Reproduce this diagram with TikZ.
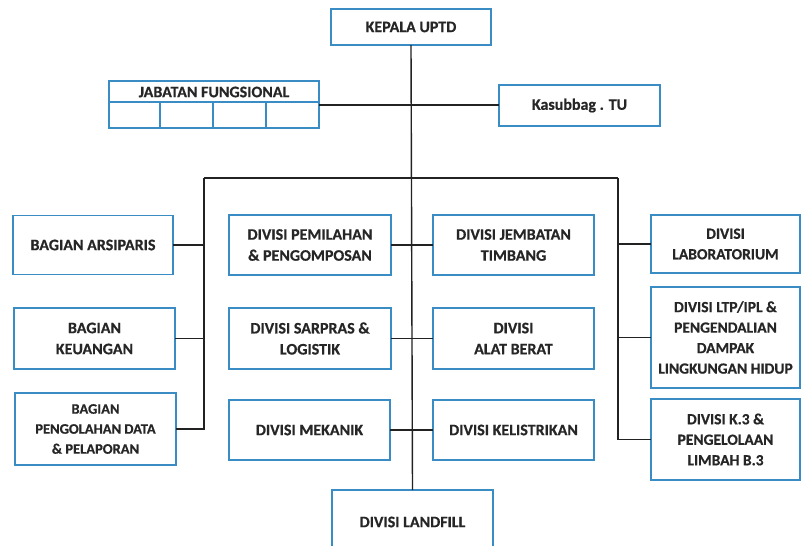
\documentclass[tikz,border=0pt]{standalone}
\usepackage{fontspec}
\setmainfont{Carlito}[BoldFeatures={FakeBold=0.6}]
\definecolor{boxblue}{HTML}{3A8CC4}
\definecolor{txt}{HTML}{262626}
\definecolor{ln}{HTML}{222222}
\newcommand{\lblfont}{\fontsize{16}{21}\selectfont\bfseries\color{txt}}
\newcommand{\smlfont}{\fontsize{14.5}{20}\selectfont\bfseries}
\newcommand{\rgtfont}{\fontsize{15.5}{20.5}\selectfont\bfseries}
\begin{document}
\begin{tikzpicture}[x=1pt,y=-1pt,
  box/.style={draw=boxblue, line width=1.6pt, fill=white, inner sep=0pt, outer sep=0pt, align=center, font=\lblfont},
  conn/.style={draw=ln, line width=1.4pt},
  bx/.style n args={4}{box, minimum width={#3-#1}, minimum height={#4-#2}}]
\useasboundingbox (0,0) rectangle (801,546);
\clip (0,0) rectangle (801,546);
% top
\node[bx={331}{9}{491}{45}] (kep) at (411,27) {KEPALA UPTD};
\node[bx={109}{81}{319}{128}] (jab) at (214,104.5) {};
\node[bx={499}{85}{660}{126}] (kas) at (579.5,105.5) {Kasubbag . TU};
\node[font=\lblfont, inner sep=0pt] (jabt) at (214,92) {JABATAN FUNGSIONAL};
\draw[draw=boxblue, line width=1.6pt] (jab.west |- 0,102) -- (jab.east |- 0,102);
\foreach \xx in {160,213,266}
  \draw[draw=boxblue, line width=1.6pt] (\xx,102) -- (jab.south -| \xx,0);
% left column
\node[bx={13}{218}{173}{277}] (ars) at (93,245) {BAGIAN ARSIPARIS};
\node[bx={14}{308}{175}{369}] (keu) at (94.5,338.5) {BAGIAN\\KEUANGAN};
\node[bx={15}{393}{176}{465}, font=\lblfont\smlfont] (pen) at (95.5,429) {BAGIAN\\PENGOLAHAN DATA\\\& PELAPORAN};
% middle left
\node[bx={229}{215}{391}{275}] (pem) at (310,245) {DIVISI PEMILAHAN\\\& PENGOMPOSAN};
\node[bx={229}{308}{391}{369}] (sar) at (310,338.5) {DIVISI SARPRAS \&\\LOGISTIK};
\node[bx={229}{400}{390}{460}] (mek) at (309.5,430) {DIVISI MEKANIK};
% middle right
\node[bx={433}{215}{594}{275}] (jem) at (513.5,245) {DIVISI JEMBATAN\\TIMBANG};
\node[bx={433}{308}{594}{369}] (ala) at (513.5,338.5) {DIVISI\\ALAT BERAT};
\node[bx={433}{400}{594}{460}] (kel) at (513.5,430) {DIVISI KELISTRIKAN};
% right column
\node[bx={651}{215}{800}{273}, font=\lblfont\rgtfont] (lab) at (725.5,244) {DIVISI\\LABORATORIUM};
\node[bx={651}{287}{800}{388}, font=\lblfont\rgtfont] (ltp) at (725.5,337.5) {DIVISI LTP/IPL \&\\PENGENDALIAN\\DAMPAK\\LINGKUNGAN HIDUP};
\node[bx={651}{399}{800}{480}, font=\lblfont\rgtfont] (k3) at (725.5,439.5) {DIVISI K.3 \&\\PENGELOLAAN\\LIMBAH B.3};
% bottom
\node[bx={332}{490}{493}{554}] (lan) at (412.5,522) {DIVISI LANDFILL};
% connectors
\coordinate (busL) at (204,178);
\coordinate (busR) at (618,178);
\draw[conn] (kep.south) -- (lan.north);
\draw[conn] (jab.east |- 0,105) -- (kas.west |- 0,105);
\draw[conn] (busL) -- (busR);
\draw[conn] (busL) |- (pen.east);
\draw[conn] (ars.east) -- (ars.east -| busL);
\draw[conn] (keu.east) -- (keu.east -| busL);
\draw[conn] (busR) |- (k3.west);
\draw[conn] (lab.west) -- (lab.west -| busR);
\draw[conn] (ltp.west) -- (ltp.west -| busR);
\draw[conn] (pem.east) -- (jem.west);
\draw[conn] (sar.east) -- (ala.west);
\draw[conn] (mek.east) -- (kel.west);
\end{tikzpicture}
\end{document}
